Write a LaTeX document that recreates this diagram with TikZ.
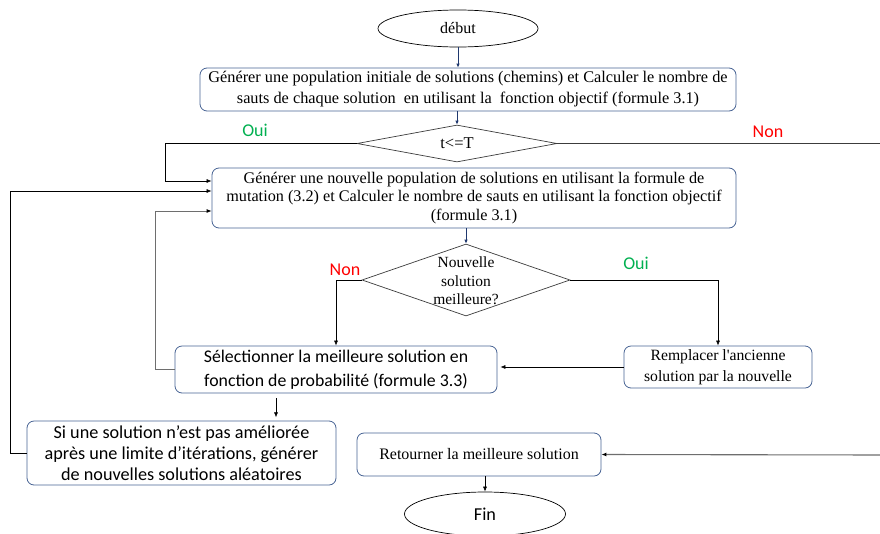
\documentclass[tikz,border=0pt]{standalone}
\usepackage{fontspec}
\setmainfont{Liberation Serif}
\newfontfamily\plainserif{Liberation Serif}[Ligatures=TeXOff]
\newfontfamily\calfont{Carlito}
\usetikzlibrary{arrows.meta,shapes.geometric,calc}
\definecolor{boxedge}{RGB}{72,100,148}
\definecolor{flowblue}{RGB}{31,56,110}
\definecolor{ouigreen}{RGB}{0,176,80}
\definecolor{nonred}{RGB}{255,0,0}
\definecolor{linegray}{RGB}{60,60,60}
\definecolor{loopgray}{RGB}{110,110,110}
\tikzset{
  procbox/.style={draw=boxedge, line width=0.8pt, rounded corners=7pt, inner sep=2pt, align=center},
  serifsz/.style={font=\fontsize{16.3}{21}\selectfont},
  calsz/.style={font=\calfont\fontsize{18.2}{21}\selectfont},
  terminal/.style={draw=black, line width=0.7pt, ellipse, inner sep=0pt},
  decision/.style={draw=linegray, line width=0.7pt, diamond, inner sep=0pt},
  arr/.style={draw=black, line width=0.6pt, -{Latex[length=5pt,width=4pt]}},
  grayarr/.style={draw=loopgray, line width=1.1pt, -{Latex[length=5pt,width=4pt,color=black]}},
  bluearr/.style={draw=flowblue, line width=0.8pt, -{Latex[length=4pt,width=3.5pt]}},
  yes/.style={text=ouigreen, font=\calfont\fontsize{18}{20}\selectfont},
  no/.style={text=nonred, font=\calfont\fontsize{18}{20}\selectfont},
}
\begin{document}
\begin{tikzpicture}[x=1pt,y=-1pt]
\useasboundingbox (0,0) rectangle (880,533);
\clip (0,0) rectangle (880,533);
\fill[white] (0,0) rectangle (880,533);

% terminals
\node[terminal, font=\fontsize{16}{20}\selectfont, minimum width=160pt, minimum height=37pt] (debut) at (458,28.5) {début};
\node[terminal, calsz, minimum width=161pt, minimum height=44pt] (fin) at (485,514) {Fin};

% process boxes
\node[procbox, serifsz, minimum width=536pt, minimum height=43pt] (b1) at (468,89.5)
  {Générer une population initiale de solutions (chemins) et Calculer le nombre de\\
   sauts de chaque solution \ en utilisant la \ fonction objectif (formule 3.1)};
\node[procbox, font=\fontsize{16.2}{18.6}\selectfont, minimum width=524pt, minimum height=60pt] (b2) at (474,198)
  {Générer une nouvelle population de solutions en utilisant la formule de\\
   mutation (3.2) et Calculer le nombre de sauts en utilisant la fonction objectif\\
   (formule 3.1)};
\node[procbox, font=\calfont\fontsize{17.8}{24}\selectfont, minimum width=322pt, minimum height=47pt] (sel) at (336,369.5)
  {Sélectionner la meilleure solution en\\ fonction de probabilité (formule 3.3)};
\node[procbox, font=\plainserif\fontsize{15.7}{21}\selectfont, minimum width=188pt, minimum height=42pt] (rem) at (718,367)
  {Remplacer l'ancienne\\ solution par la nouvelle};
\node[procbox, calsz, minimum width=309pt, minimum height=64pt] (si) at (181.5,453)
  {Si une solution n’est pas améliorée\\ après une limite d’itérations, générer\\ de nouvelles solutions aléatoires};
\node[procbox, font=\fontsize{16}{20}\selectfont, minimum width=244pt, minimum height=43pt] (ret) at (479,454.5)
  {Retourner la meilleure solution};

% decisions
\node[decision, minimum width=200pt, minimum height=37pt] (d1) at (457,143.5) {};
\node[font=\fontsize{16.5}{20}\selectfont] (d1t) at (d1) {t<=T};
\node[decision, minimum width=208pt, minimum height=72pt] (d2) at (466,280) {};
\node[align=center, font=\fontsize{15.5}{18.5}\selectfont] (d2t) at (466,281) {Nouvelle\\ solution\\ meilleure?};

% branch labels
\node[yes] (oui1) at (255,130) {Oui};
\node[no]  (non1) at (768,132) {Non};
\node[no]  (non2) at (345,270) {Non};
\node[yes] (oui2) at (636,263) {Oui};

% main flow
\draw[bluearr] (debut.south) -- (debut.south |- b1.north);
\draw[bluearr] (d1.north |- b1.south) -- (d1.north);
\draw[bluearr] (d2.north |- b2.south) -- (d2.north);
\draw[arr] (fin.north |- ret.south) -- (fin.north);

% decision t<=T
\draw[arr] (d1.west) -- (165,143.5) |- ($(b2.west)+(0,-17)$);
\draw[arr, draw=linegray] (d1.east) -- (886,143.5) -- (886,455);
\draw[grayarr] (886,455) -- (ret.east);

% decision on the new solution
\draw[arr] (d2.west) -| (sel.north);
\draw[arr] (d2.east) -| (rem.north);
\draw[arr] (rem.west) -- ($(rem.west -| sel.east)+(3,0)$);

% loops back to the mutation step
\draw[grayarr, line width=0.8pt] (sel.west) -- (155,369.5) |- ($(b2.west)+(0,13)$);
\draw[arr] (si.west) -- (10,453) |- ($(b2.west)+(0,-7)$);

% selection to regeneration
\draw[arr] ($(sel.south)+(-60,5)$) -- ($(sel.south)+(-60,24)$);
\end{tikzpicture}
\end{document}
